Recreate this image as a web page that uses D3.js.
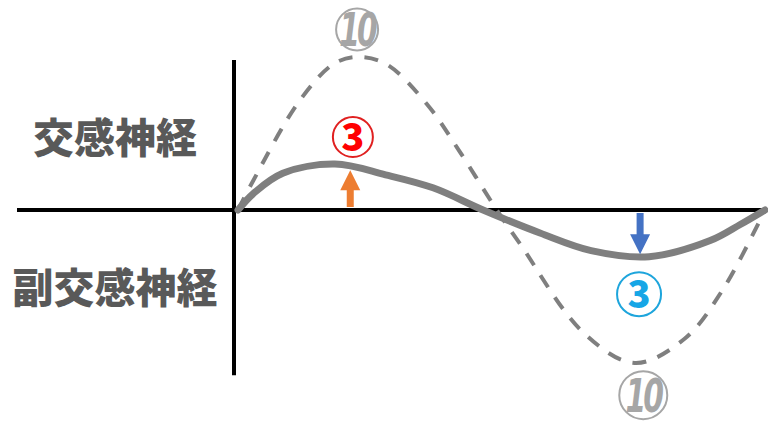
<!DOCTYPE html>
<html>
<head>
<meta charset="utf-8">
<script src="https://cdn.jsdelivr.net/npm/d3@7"></script>
<style>
  body { margin: 0; background: #fff; }
  svg { display: block; }
</style>
</head>
<body>
<svg></svg>
<script>
// Dashed curve (strong swing, peak 10 / trough -10)
const wideX = [0, 2.7, 11.8, 18.4, 23.1, 28.3, 35.9, 42.1, 49.1, 53.5, 65.5, 75.3, 84.8, 92, 100];
const wideY = [0, 1.8, 7.2, 9.6, 10, 9.5, 6.9, 3.8, 0, -2.2, -8.0, -10, -8.4, -5.2, 0];

// Solid curve (small swing, peak 3 / trough -3)
const narrowX = [0, 3, 8.5, 18.4, 28, 37, 46.5, 57.3, 67, 78, 89.6, 95.3, 100];
const narrowY = [0, 1.1, 2.4, 3.0, 2.3, 1.45, 0, -1.5, -2.65, -3.05, -2.0, -0.95, 0];

// Side labels
const sideLabels = ["交感神経", "副交感神経"];

// Circled numbers
const badgeText = ["10", "3", "3", "10"];
const badgeX = [22.6, 21.8, 76.1, 76.9];
const badgeY = [11.8, 4.77, -5.5, -12.1];

// Arrows (x position, tip value)
const arrowX = [21.3, 76.3];
const arrowTip = [2.6, -2.9];

const W = 768, H = 429;
const svg = d3.select("svg").attr("width", W).attr("height", H);

const x = d3.scaleLinear().domain([0, 100]).range([238, 765]);
const y = d3.scaleLinear().domain([-10, 10]).range([363, 57]);

// axes
svg.append("line")
    .attr("x1", 17).attr("x2", x(100) + 1)
    .attr("y1", y(0)).attr("y2", y(0))
    .attr("stroke", "#000").attr("stroke-width", 4);
svg.append("line")
    .attr("x1", x(0) - 4).attr("x2", x(0) - 4)
    .attr("y1", y(9.8)).attr("y2", y(-10.8))
    .attr("stroke", "#000").attr("stroke-width", 4);

const line = d3.line().x(d => x(d[0])).y(d => y(d[1])).curve(d3.curveCatmullRom.alpha(0.5));

svg.append("path")
    .datum(d3.zip(wideX, wideY))
    .attr("d", line)
    .attr("fill", "none")
    .attr("stroke", "#7f7f7f")
    .attr("stroke-width", 4)
    .attr("stroke-dasharray", "14,12");

svg.append("path")
    .datum(d3.zip(narrowX, narrowY))
    .attr("d", line)
    .attr("fill", "none")
    .attr("stroke", "#7f7f7f")
    .attr("stroke-width", 7)
    .attr("stroke-linecap", "round");

// arrows
const arrowColors = ["#ed7d31", "#4472c4"];
arrowX.forEach((ax, i) => {
    const cx = x(ax);
    const y0 = y(0) + (i === 0 ? -3 : 3);
    const tip = y(arrowTip[i]);
    const dir = tip < y0 ? -1 : 1;
    const headLen = 20, headW = 10, shaftW = 3.5;
    const neck = tip - dir * headLen;
    const p = [
        [cx - shaftW, y0], [cx - shaftW, neck], [cx - headW, neck],
        [cx, tip], [cx + headW, neck], [cx + shaftW, neck], [cx + shaftW, y0]
    ];
    svg.append("path")
        .attr("d", "M" + p.map(q => q.join(",")).join("L") + "Z")
        .attr("fill", arrowColors[i]);
});

// circled numbers
const badgeStroke = ["#a6a6a6", "#e02020", "#1ea5dc", "#a6a6a6"];
const badgeFill = ["#a6a6a6", "#ff0000", "#16a6e6", "#a6a6a6"];
const badgeR = [21, 20, 22, 24];
badgeText.forEach((t, i) => {
    const g = svg.append("g").attr("transform", `translate(${x(badgeX[i])},${y(badgeY[i])})`);
    g.append("circle").attr("r", badgeR[i])
        .attr("fill", "#fff").attr("stroke", badgeStroke[i]).attr("stroke-width", 2);
    const isTen = t === "10";
    g.append("text")
        .attr("text-anchor", "middle")
        .attr("dy", "0.36em")
        .attr("transform", isTen ? "scale(0.72,1)" : null)
        .attr("font-family", isTen ? "'DejaVu Sans Condensed', 'Liberation Sans Narrow', sans-serif" : "'Noto Sans CJK JP', sans-serif")
        .attr("font-weight", isTen ? 700 : 900)
        .attr("font-style", isTen ? "italic" : "normal")
        .attr("font-size", isTen ? 46 : 38)
        .attr("letter-spacing", isTen ? -4 : 0)
        .attr("fill", badgeFill[i])
        .text(t);
});

// side labels
svg.selectAll(".side")
    .data(sideLabels)
    .enter().append("text")
    .attr("class", "side")
    .attr("x", 115)
    .attr("y", (d, i) => i === 0 ? 139 : 289)
    .attr("dy", "0.35em")
    .attr("text-anchor", "middle")
    .attr("font-family", "'Noto Sans CJK JP', sans-serif")
    .attr("font-weight", 900)
    .attr("font-size", 41)
    .attr("fill", "#595959")
    .text(d => d);
</script>
</body>
</html>
